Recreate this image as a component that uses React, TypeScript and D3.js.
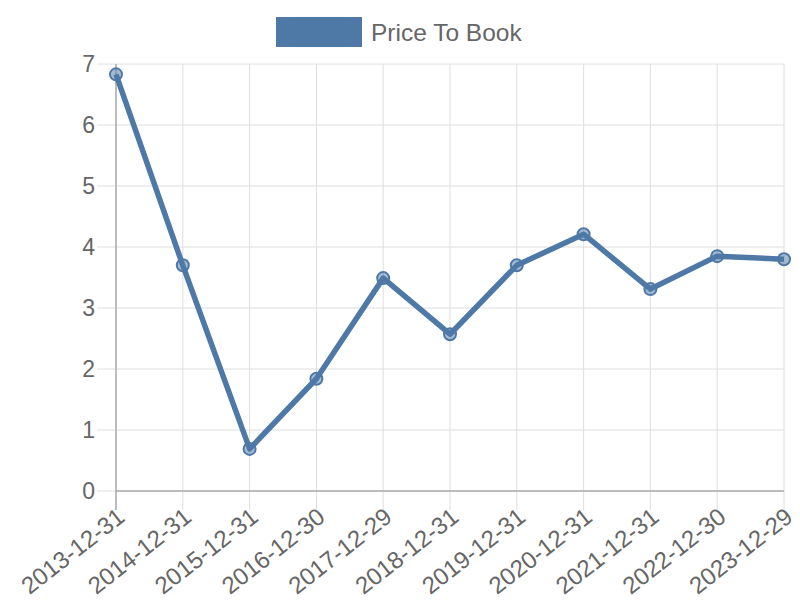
import { useEffect, useRef } from 'react';
import * as d3 from 'd3';

const dates = [
  '2013-12-31', '2014-12-31', '2015-12-31', '2016-12-30', '2017-12-29', '2018-12-31',
  '2019-12-31', '2020-12-31', '2021-12-31', '2022-12-30', '2023-12-29',
];
const priceToBook = [6.83, 3.7, 0.69, 1.84, 3.49, 2.57, 3.7, 4.21, 3.31, 3.85, 3.8];
const yTicks = [0, 1, 2, 3, 4, 5, 6, 7];
const seriesName = 'Price To Book';

export default function App() {
  const svgRef = useRef<SVGSVGElement>(null);

  useEffect(() => {
    if (!svgRef.current) return;
    const svg = d3.select(svgRef.current);
    svg.selectAll('*').remove();

    const color = '#4e79a7';
    const font = '"Liberation Sans", Arial, sans-serif';
    const left = 116, right = 784, top = 64, bottom = 491;
    const tick = 19;

    const x = d3.scalePoint<string>().domain(dates).range([left, right]);
    const y = d3.scaleLinear().domain([0, 7]).range([bottom, top]);

    // horizontal grid
    svg.append('g')
      .selectAll('line')
      .data(yTicks)
      .join('line')
      .attr('x1', left - tick)
      .attr('x2', right)
      .attr('y1', (d) => y(d))
      .attr('y2', (d) => y(d))
      .attr('stroke', '#dedede')
      .attr('stroke-width', 1);

    // vertical grid
    svg.append('g')
      .selectAll('line')
      .data(dates)
      .join('line')
      .attr('x1', (d) => x(d)!)
      .attr('x2', (d) => x(d)!)
      .attr('y1', top)
      .attr('y2', bottom + tick)
      .attr('stroke', '#dedede')
      .attr('stroke-width', 1);

    // axis lines
    svg.append('line')
      .attr('x1', left).attr('x2', left)
      .attr('y1', top).attr('y2', bottom + tick)
      .attr('stroke', '#ababab').attr('stroke-width', 1.5);
    svg.append('line')
      .attr('x1', left).attr('x2', right)
      .attr('y1', bottom).attr('y2', bottom)
      .attr('stroke', '#ababab').attr('stroke-width', 1.5);

    // y labels
    svg.append('g')
      .selectAll('text')
      .data(yTicks)
      .join('text')
      .attr('x', left - tick - 2)
      .attr('y', (d) => y(d))
      .attr('text-anchor', 'end')
      .attr('dominant-baseline', 'central')
      .attr('font-family', font)
      .attr('font-size', 23)
      .attr('fill', '#666')
      .text((d) => d);

    // x labels
    svg.append('g')
      .selectAll('text')
      .data(dates)
      .join('text')
      .attr('transform', (d) => `translate(${x(d)! + 5},${bottom + tick + 3}) rotate(-38)`)
      .attr('text-anchor', 'end')
      .attr('dominant-baseline', 'central')
      .attr('font-family', font)
      .attr('font-size', 24)
      .attr('fill', '#666')
      .text((d) => d);

    const data = dates.map((d, i) => ({ date: d, value: priceToBook[i] }));

    const line = d3.line<{ date: string; value: number }>()
      .x((d) => x(d.date)!)
      .y((d) => y(d.value));

    svg.append('path')
      .datum(data)
      .attr('fill', 'none')
      .attr('stroke', color)
      .attr('stroke-width', 5.5)
      .attr('stroke-linejoin', 'round')
      .attr('d', line);

    svg.append('g')
      .selectAll('circle')
      .data(data)
      .join('circle')
      .attr('cx', (d) => x(d.date)!)
      .attr('cy', (d) => y(d.value))
      .attr('r', 6)
      .attr('fill', 'rgba(78,121,167,0.5)')
      .attr('stroke', color)
      .attr('stroke-width', 2);

    // legend
    svg.append('rect')
      .attr('x', 276).attr('y', 17)
      .attr('width', 86).attr('height', 30)
      .attr('fill', color);
    svg.append('text')
      .attr('x', 371).attr('y', 32)
      .attr('dominant-baseline', 'central')
      .attr('font-family', font)
      .attr('font-size', 24.5)
      .attr('fill', '#666')
      .text(seriesName);
  }, []);

  return (
    <svg
      ref={svgRef}
      width={800}
      height={600}
      style={{ position: 'absolute', left: 0, top: 0, background: '#fff' }}
    ></svg>
  );
}
